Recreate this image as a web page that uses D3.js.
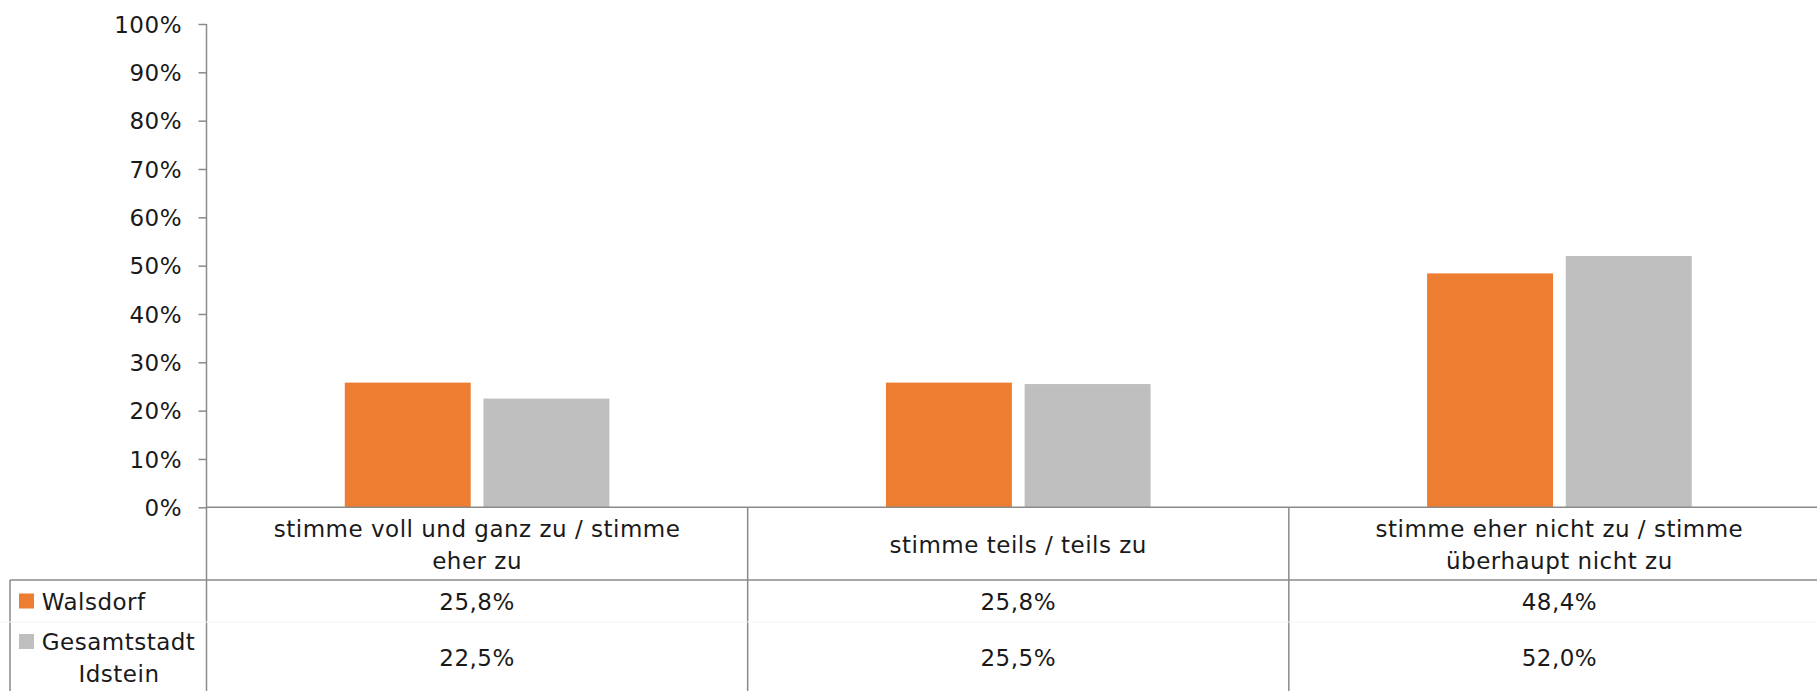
<!DOCTYPE html>
<html>
<head>
<meta charset="utf-8">
<script src="https://cdn.jsdelivr.net/npm/d3@7"></script>
<style>
  html, body { margin: 0; padding: 0; background: #fff; }
  svg { display: block; }
  text { font-family: "DejaVu Sans", sans-serif; font-size: 23px; letter-spacing: 0.5px; fill: #1a1a1a; }
</style>
</head>
<body>
<svg id="chart" width="1817" height="691"></svg>
<script>
const categories = [
  "stimme voll und ganz zu / stimme eher zu",
  "stimme teils / teils zu",
  "stimme eher nicht zu / stimme überhaupt nicht zu"
];
const seriesNames = ["Walsdorf", "Gesamtstadt Idstein"];
const walsdorf = [25.8, 25.8, 48.4];
const gesamtstadt = [22.5, 25.5, 52.0];
const seriesColors = ["#ED7D31", "#BFBFBF"];
const yTicks = [0, 10, 20, 30, 40, 50, 60, 70, 80, 90, 100];

(function () {
const series = [walsdorf, gesamtstadt];
const fmt = v => v.toFixed(1).replace(".", ",") + "%";

const W = 1817, H = 691;
const svg = d3.select("#chart");
const lineColor = "#8a8a8a";

const pLeft = 206.5, pRight = 1830, pTop = 24, pBottom = 507.3;
const catRowBottom = 580, row1Bottom = 622;
const legendLeft = 10;

const x0 = d3.scaleBand().domain(d3.range(categories.length)).range([pLeft, pRight]).paddingInner(0).paddingOuter(0);
const x1 = d3.scaleBand().domain(d3.range(series.length)).range([0, x0.bandwidth()]).paddingInner(0.092).paddingOuter(0.997);
const y = d3.scaleLinear().domain([0, 100]).range([pBottom, pTop]);

// bars
const g = svg.append("g");
categories.forEach((c, ci) => {
  series.forEach((s, si) => {
    g.append("rect")
      .attr("x", x0(ci) + x1(si))
      .attr("y", y(s[ci]))
      .attr("width", x1.bandwidth())
      .attr("height", y(0) - y(s[ci]))
      .attr("fill", seriesColors[si]);
  });
});

// y axis
const yAxis = d3.axisLeft(y).tickValues(yTicks).tickSize(8).tickSizeOuter(0).tickPadding(17).tickFormat(d => d + "%");
const ya = svg.append("g").attr("transform", `translate(${pLeft},0)`).call(yAxis);
ya.select(".domain").remove();
ya.selectAll(".tick line").attr("stroke", lineColor).attr("stroke-width", 1.5);
ya.selectAll(".tick text").attr("fill", "#1a1a1a").style("font-family", "DejaVu Sans").style("font-size", "23px").attr("dy", "0.36em").attr("dx", "0.5");

// table lines
const lines = svg.append("g").attr("stroke", lineColor).attr("stroke-width", 1.5);
lines.append("line").attr("x1", pLeft).attr("x2", pLeft).attr("y1", pTop).attr("y2", H);
lines.append("line").attr("x1", pLeft).attr("x2", W).attr("y1", pBottom).attr("y2", pBottom);
lines.append("line").attr("x1", legendLeft).attr("x2", W).attr("y1", catRowBottom).attr("y2", catRowBottom);
lines.append("line").attr("x1", legendLeft).attr("x2", legendLeft).attr("y1", catRowBottom).attr("y2", H);
d3.range(1, categories.length).forEach(i => {
  lines.append("line").attr("x1", x0(i)).attr("x2", x0(i)).attr("y1", pBottom).attr("y2", H);
});
svg.append("line").attr("x1", 0).attr("x2", W).attr("y1", row1Bottom).attr("y2", row1Bottom)
  .attr("stroke", "#f4f4f4").attr("stroke-width", 1);

// wrap helper
function wrapLines(text, maxW) {
  const words = text.split(" ");
  const tmp = svg.append("text").attr("x", -9999).attr("y", -9999);
  const out = [];
  let cur = [];
  words.forEach(w => {
    const test = cur.concat([w]).join(" ");
    tmp.text(test);
    if (tmp.node().getComputedTextLength() > maxW && cur.length) {
      out.push(cur.join(" "));
      cur = [w];
    } else cur.push(w);
  });
  if (cur.length) out.push(cur.join(" "));
  tmp.remove();
  return out;
}

// category labels
const lh = 32;
categories.forEach((c, ci) => {
  const ls = wrapLines(c, 435);
  const cx = x0(ci) + x0.bandwidth() / 2;
  const cy = (pBottom + catRowBottom) / 2 + 1;
  const t = svg.append("text").attr("text-anchor", "middle");
  ls.forEach((l, li) => {
    t.append("tspan").attr("x", cx).attr("y", cy + (li - (ls.length - 1) / 2) * lh).attr("dy", "0.35em").text(l);
  });
});

// value rows
const rowCenters = [601.5, 658];
series.forEach((s, si) => {
  s.forEach((v, ci) => {
    svg.append("text").attr("text-anchor", "middle")
      .attr("x", x0(ci) + x0.bandwidth() / 2)
      .attr("y", rowCenters[si]).attr("dy", "0.35em").text(fmt(v));
  });
});

// legend keys
const keyX = 19, keySize = 15, textX = 41.7;
seriesNames.forEach((n, si) => {
  const ls = wrapLines(n, 160);
  const cy = rowCenters[si] - (ls.length - 1) * lh / 2;
  svg.append("rect").attr("x", keyX).attr("y", cy - keySize / 2 - 0.5).attr("width", keySize).attr("height", keySize).attr("fill", seriesColors[si]);
  ls.forEach((l, li) => {
    if (li === 0) {
      svg.append("text").attr("x", textX).attr("y", cy).attr("dy", "0.35em").text(l);
    } else {
      svg.append("text").attr("text-anchor", "middle").attr("x", 119).attr("y", cy + li * lh).attr("dy", "0.35em").text(l);
    }
  });
});
})();
</script>
</body>
</html>
